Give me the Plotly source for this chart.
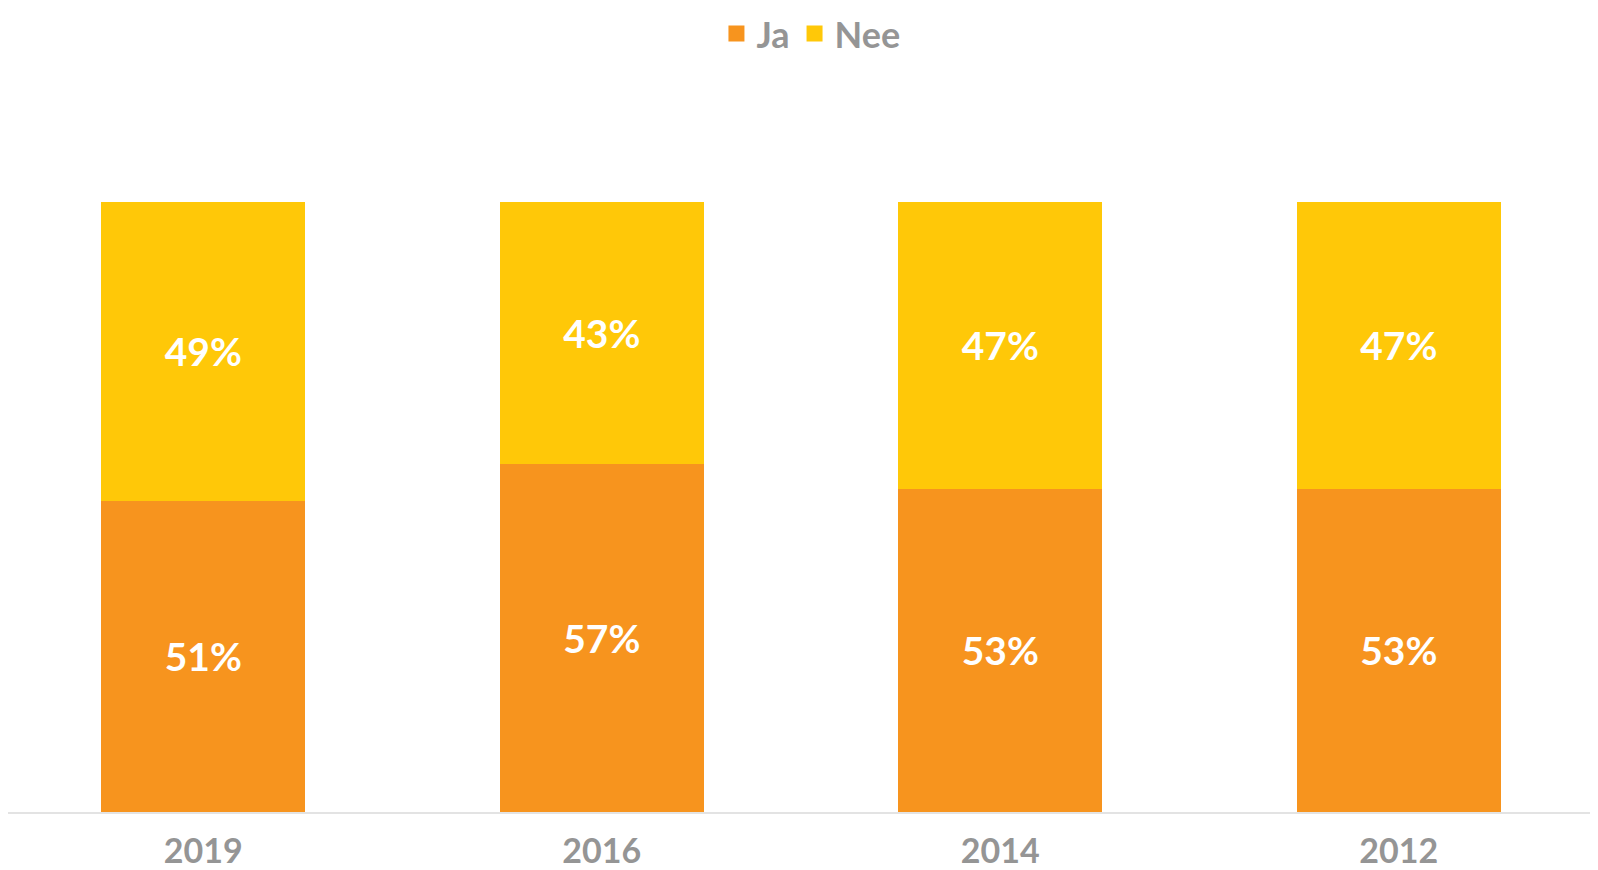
import plotly.graph_objects as go

years = ["2019", "2016", "2014", "2012"]
ja = [51, 57, 53, 53]
nee = [49, 43, 47, 47]
series_names = ["Ja", "Nee"]
colors = ["#F7941E", "#FFC808"]

FONT = "Lato"
GRAY = "#959595"

fig = go.Figure()
for name, vals, col in zip(series_names, [ja, nee], colors):
    fig.add_trace(go.Bar(
        x=years, y=vals, name=name, width=0.512,
        marker=dict(color=col, line=dict(width=0)),
        text=[f"{v}%" for v in vals], textposition="inside", insidetextanchor="middle",
        textfont=dict(family=FONT, size=39, color="white", weight="bold"),
        textangle=0, showlegend=False,
    ))
    # legend swatch
    fig.add_trace(go.Scatter(
        x=[None], y=[None], mode="markers", name=name,
        marker=dict(symbol="square", size=22, color=col), showlegend=True,
    ))

# page has an 8px body margin, so the figure is sized to fit 1598x870 viewport
fig.update_layout(
    width=1590, height=862,
    barmode="stack",
    margin=dict(l=0, r=0, t=80, b=58, autoexpand=False),
    paper_bgcolor="white", plot_bgcolor="white",
    legend=dict(orientation="h", x=0.505, xanchor="center", y=1.075, yanchor="middle",
                yref="paper", font=dict(family=FONT, size=36, color=GRAY, weight="bold"),
                itemsizing="trace", traceorder="normal", itemwidth=30,
                bgcolor="rgba(0,0,0,0)"),
    xaxis=dict(showgrid=False, showline=True, linecolor="#E3E3E3", linewidth=2,
               tickfont=dict(family=FONT, size=34, color=GRAY, weight="bold"),
               ticks="", zeroline=False, automargin=False, ticklabelstandoff=8,
               range=[-0.49, 3.5]),
    yaxis=dict(visible=False, range=[0, 118.7], showgrid=False, zeroline=False,
               automargin=False),
)
fig.write_html("out.html")
